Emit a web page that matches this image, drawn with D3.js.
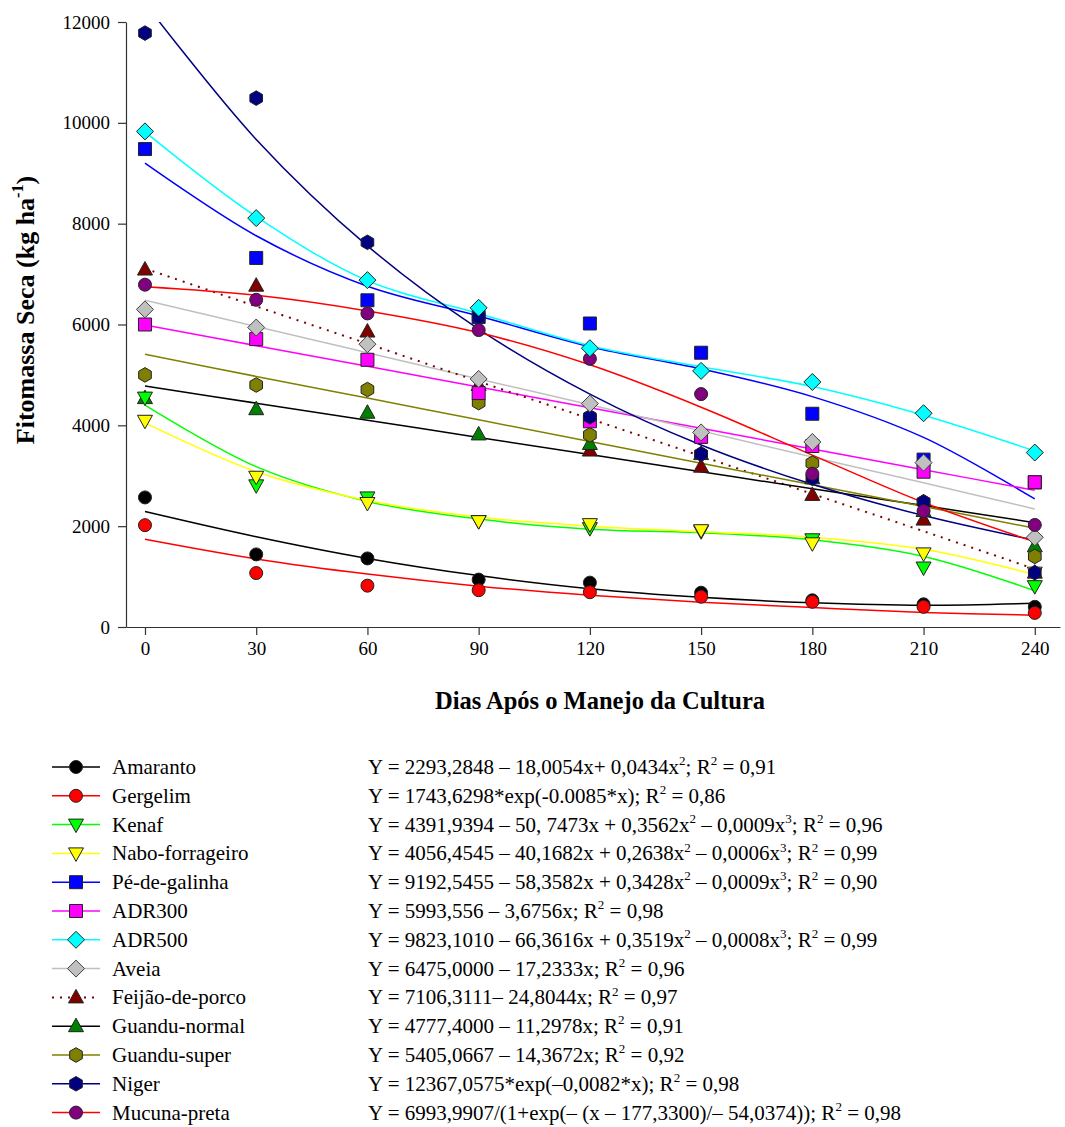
<!DOCTYPE html>
<html>
<head>
<meta charset="utf-8">
<script src="https://cdn.jsdelivr.net/npm/d3@7"></script>
<style>
  body { margin: 0; background: #fff; }
  text { font-family: "Liberation Serif", "Times New Roman", serif; fill: #000; }
</style>
</head>
<body>
<script>
// days after crop management
var days = [0, 30, 60, 90, 120, 150, 180, 210, 240]
var yTicks = [0, 2000, 4000, 6000, 8000, 10000, 12000]

var amaranto     = [2570, 1440, 1360, 940, 880, 680, 530, 450, 400]
var gergelim     = [2020, 1070, 820, 730, 690, 600, 500, 400, 280]
var kenaf        = [4550, 2810, 2570, 2100, 1960, 1900, 1740, 1180, 810]
var nabo         = [4090, 2980, 2460, 2100, 2040, 1920, 1660, 1460, 1078]
var peDeGalinha  = [9480, 7320, 6480, 6150, 6020, 5440, 4230, 3320, 2870]
var adr300       = [6000, 5710, 5300, 4640, 4080, 3770, 3590, 3080, 2870]
var adr500       = [9830, 8110, 6880, 6330, 5530, 5080, 4860, 4240, 3460]
var aveia        = [6300, 5940, 5610, 4920, 4430, 3860, 3670, 3260, 1780]
var feijao       = [7090, 6770, 5860, 4800, 3500, 3180, 2620, 2130, 1078]
var guanduNormal = [4540, 4320, 4250, 3820, 3630, 3430, 2950, 2300, 1600]
var guanduSuper  = [5000, 4800, 4710, 4450, 3810, 3430, 3250, 2480, 1400]
var niger        = [11780, 10490, 7630, 6150, 4170, 3430, 2950, 2480, 1078]
var mucuna       = [6790, 6490, 6220, 5890, 5320, 4620, 3040, 2300, 2024]

// fitted curves at the same days
var fitAmaranto     = [2290, 1790, 1360, 1020, 760, 590, 480, 430, 470]
var fitGergelim     = [1740, 1350, 1050, 810, 630, 490, 385, 290, 235]
var fitKenaf        = [4400, 3180, 2490, 2140, 1940, 1870, 1730, 1400, 720]
var fitNabo         = [4050, 3080, 2510, 2180, 2000, 1890, 1780, 1540, 1040]
var fitPeDeGalinha  = [9200, 7760, 6760, 6170, 5560, 5120, 4570, 3760, 2540]
var fitAdr300       = [5990, 5580, 5170, 4760, 4350, 3940, 3530, 3120, 2710]
var fitAdr500       = [9820, 8140, 6870, 6220, 5580, 5160, 4770, 4200, 3490]
var fitAveia        = [6480, 5960, 5440, 4920, 4410, 3890, 3370, 2860, 2340]
var fitFeijao       = [7110, 6360, 5620, 4870, 4130, 3390, 2640, 1900, 1150]
var fitGuanduNormal = [4780, 4440, 4100, 3760, 3420, 3080, 2740, 2410, 2070]
var fitGuanduSuper  = [5410, 4970, 4540, 4110, 3680, 3250, 2820, 2390, 1960]
var fitNiger        = [12370, 9670, 7560, 5910, 4620, 3610, 2830, 2210, 1720]
var fitMucuna       = [6750, 6580, 6270, 5840, 5200, 4360, 3410, 2470, 1690]

var names = ['Amaranto', 'Gergelim', 'Kenaf', 'Nabo-forrageiro', 'Pé-de-galinha', 'ADR300',
  'ADR500', 'Aveia', 'Feijão-de-porco', 'Guandu-normal', 'Guandu-super', 'Niger', 'Mucuna-preta']

var equations = [
  'Y = 2293,2848 – 18,0054x+ 0,0434x^2; R^2 = 0,91',
  'Y = 1743,6298*exp(-0.0085*x); R^2 = 0,86',
  'Y = 4391,9394 – 50, 7473x + 0,3562x^2 – 0,0009x^3; R^2 = 0,96',
  'Y = 4056,4545 – 40,1682x + 0,2638x^2 – 0,0006x^3; R^2 = 0,99',
  'Y = 9192,5455 – 58,3582x + 0,3428x^2 – 0,0009x^3; R^2 = 0,90',
  'Y = 5993,556 – 3,6756x; R^2 = 0,98',
  'Y = 9823,1010 – 66,3616x + 0,3519x^2 – 0,0008x^3; R^2 = 0,99',
  'Y = 6475,0000 – 17,2333x; R^2 = 0,96',
  'Y = 7106,3111– 24,8044x; R^2 = 0,97',
  'Y = 4777,4000 – 11,2978x; R^2 = 0,91',
  'Y = 5405,0667 – 14,3672x; R^2 = 0,92',
  'Y = 12367,0575*exp(–0,0082*x); R^2 = 0,98',
  'Y = 6993,9907/(1+exp(– (x – 177,3300)/– 54,0374)); R^2 = 0,98'
]

// styling per series (legend order)
var series = [
  {obs: amaranto,     fit: fitAmaranto,     line: '#000000', fill: '#000000', shape: 'circle'},
  {obs: gergelim,     fit: fitGergelim,     line: '#ff0000', fill: '#ff0000', shape: 'circle'},
  {obs: kenaf,        fit: fitKenaf,        line: '#00ff00', fill: '#00ff00', shape: 'triDown'},
  {obs: nabo,         fit: fitNabo,         line: '#ffff00', fill: '#ffff00', shape: 'triDown'},
  {obs: peDeGalinha,  fit: fitPeDeGalinha,  line: '#0000ff', fill: '#0000ff', shape: 'square'},
  {obs: adr300,       fit: fitAdr300,       line: '#ff00ff', fill: '#ff00ff', shape: 'square'},
  {obs: adr500,       fit: fitAdr500,       line: '#00ffff', fill: '#00ffff', shape: 'diamond'},
  {obs: aveia,        fit: fitAveia,        line: '#c0c0c0', fill: '#c0c0c0', shape: 'diamond', stroke: '#404040'},
  {obs: feijao,       fit: fitFeijao,       line: '#800000', fill: '#800000', shape: 'triUp', dash: '2,6'},
  {obs: guanduNormal, fit: fitGuanduNormal, line: '#000000', fill: '#008000', shape: 'triUp'},
  {obs: guanduSuper,  fit: fitGuanduSuper,  line: '#808000', fill: '#808000', shape: 'hexagon'},
  {obs: niger,        fit: fitNiger,        line: '#000080', fill: '#000080', shape: 'hexagon'},
  {obs: mucuna,       fit: fitMucuna,       line: '#ff0000', fill: '#800080', shape: 'circle'}
]
series.forEach(function(s, i) { s.name = names[i]; s.eq = equations[i] })

// marker stacking order seen in the figure
var drawOrder = [8, 9, 10, 4, 5, 2, 3, 0, 1, 11, 7, 12, 6]

var W = 1065, H = 1127
var svg = d3.select('body').append('svg').attr('width', W).attr('height', H)

var x = d3.scaleLinear().domain([-5.12, 246.8]).range([126, 1060])
var y = d3.scaleLinear().domain([0, 12000]).range([627, 22])

function shapePath(shape) {
  var p = d3.path()
  if (shape === 'circle') {
    p.arc(0, 0, 6.5, 0, 2 * Math.PI)
  } else if (shape === 'square') {
    p.rect(-6.5, -6.5, 13, 13)
  } else if (shape === 'diamond') {
    p.moveTo(0, -8.5); p.lineTo(8.5, 0); p.lineTo(0, 8.5); p.lineTo(-8.5, 0); p.closePath()
  } else if (shape === 'triUp') {
    p.moveTo(0, -8); p.lineTo(7.5, 5.5); p.lineTo(-7.5, 5.5); p.closePath()
  } else if (shape === 'triDown') {
    p.moveTo(0, 8); p.lineTo(7.5, -5.5); p.lineTo(-7.5, -5.5); p.closePath()
  } else if (shape === 'hexagon') {
    for (var k = 0; k < 6; k++) {
      var a = Math.PI / 6 + k * Math.PI / 3
      var px = 7.3 * Math.cos(a), py = 7.3 * Math.sin(a)
      if (k === 0) p.moveTo(px, py); else p.lineTo(px, py)
    }
    p.closePath()
  }
  return p.toString()
}

// text with ^n superscripts
function richText(sel, str, size) {
  var parts = str.split(/\^(-?\d)/)
  parts.forEach(function(part, i) {
    if (part === '') return
    var sup = i % 2 === 1
    var t = sel.append('tspan').text(part)
    if (sup) {
      t.attr('font-size', size * 0.62).attr('dy', -size * 0.42)
    } else if (i > 0) {
      t.attr('dy', size * 0.42)
    }
  })
}

// axes
var xAxis = d3.axisBottom(x).tickValues(days).tickSizeInner(8).tickSizeOuter(0).tickPadding(7)
var yAxis = d3.axisLeft(y).tickValues(yTicks).tickFormat(d3.format('d'))
  .tickSizeInner(8).tickSizeOuter(0).tickPadding(8)

var gx = svg.append('g').attr('transform', 'translate(0,627)').call(xAxis)
var gy = svg.append('g').attr('transform', 'translate(126,0)').call(yAxis)
;[gx, gy].forEach(function(g) {
  g.attr('font-family', null).attr('font-size', null)
  g.selectAll('text').attr('font-size', 19)
  g.selectAll('path, line').attr('stroke', '#333').attr('stroke-width', 1.2)
})

svg.append('text')
  .attr('x', 600).attr('y', 709)
  .attr('text-anchor', 'middle')
  .attr('font-size', 24.5).attr('font-weight', 'bold')
  .text('Dias Após o Manejo da Cultura')

var yl = svg.append('text')
  .attr('transform', 'translate(34,310) rotate(-90)')
  .attr('text-anchor', 'middle')
  .attr('font-size', 26).attr('font-weight', 'bold')
richText(yl, 'Fitomassa Seca (kg ha^-1)', 26)

// plot
svg.append('clipPath').attr('id', 'plotClip')
  .append('rect').attr('x', 126).attr('y', 22).attr('width', 934).attr('height', 605)

var line = d3.line()
  .x(function(d, i) { return x(days[i]) })
  .y(function(d) { return y(d) })
  .curve(d3.curveCatmullRom.alpha(0.5))

var lines = svg.append('g').attr('clip-path', 'url(#plotClip)')
series.forEach(function(s) {
  lines.append('path')
    .attr('d', line(s.fit))
    .attr('fill', 'none')
    .attr('stroke', s.line)
    .attr('stroke-width', s.dash ? 2 : 1.5)
    .attr('stroke-dasharray', s.dash || null)
})

var marks = svg.append('g')
drawOrder.forEach(function(idx) {
  var s = series[idx]
  marks.selectAll(null)
    .data(s.obs)
    .enter()
    .append('path')
    .attr('d', shapePath(s.shape))
    .attr('transform', function(d, i) { return 'translate(' + x(days[i]) + ',' + y(d) + ')' })
    .attr('fill', s.fill)
    .attr('stroke', s.stroke || '#222')
    .attr('stroke-width', 1)
})

// legend
var legend = svg.append('g')
series.forEach(function(s, i) {
  var ly = 767 + i * 28.8
  var g = legend.append('g').attr('transform', 'translate(0,' + ly + ')')
  g.append('line')
    .attr('x1', 52).attr('x2', 100).attr('y1', 0).attr('y2', 0)
    .attr('stroke', s.line).attr('stroke-width', s.dash ? 2 : 1.5)
    .attr('stroke-dasharray', s.dash || null)
  g.append('path')
    .attr('d', shapePath(s.shape))
    .attr('transform', 'translate(76,0)')
    .attr('fill', s.fill)
    .attr('stroke', s.stroke || '#222')
  g.append('text').attr('x', 112).attr('y', 7).attr('font-size', 21).text(s.name)
  var eq = g.append('text').attr('x', 368).attr('y', 7).attr('font-size', 21)
  richText(eq, s.eq, 21)
})
</script>
</body>
</html>
